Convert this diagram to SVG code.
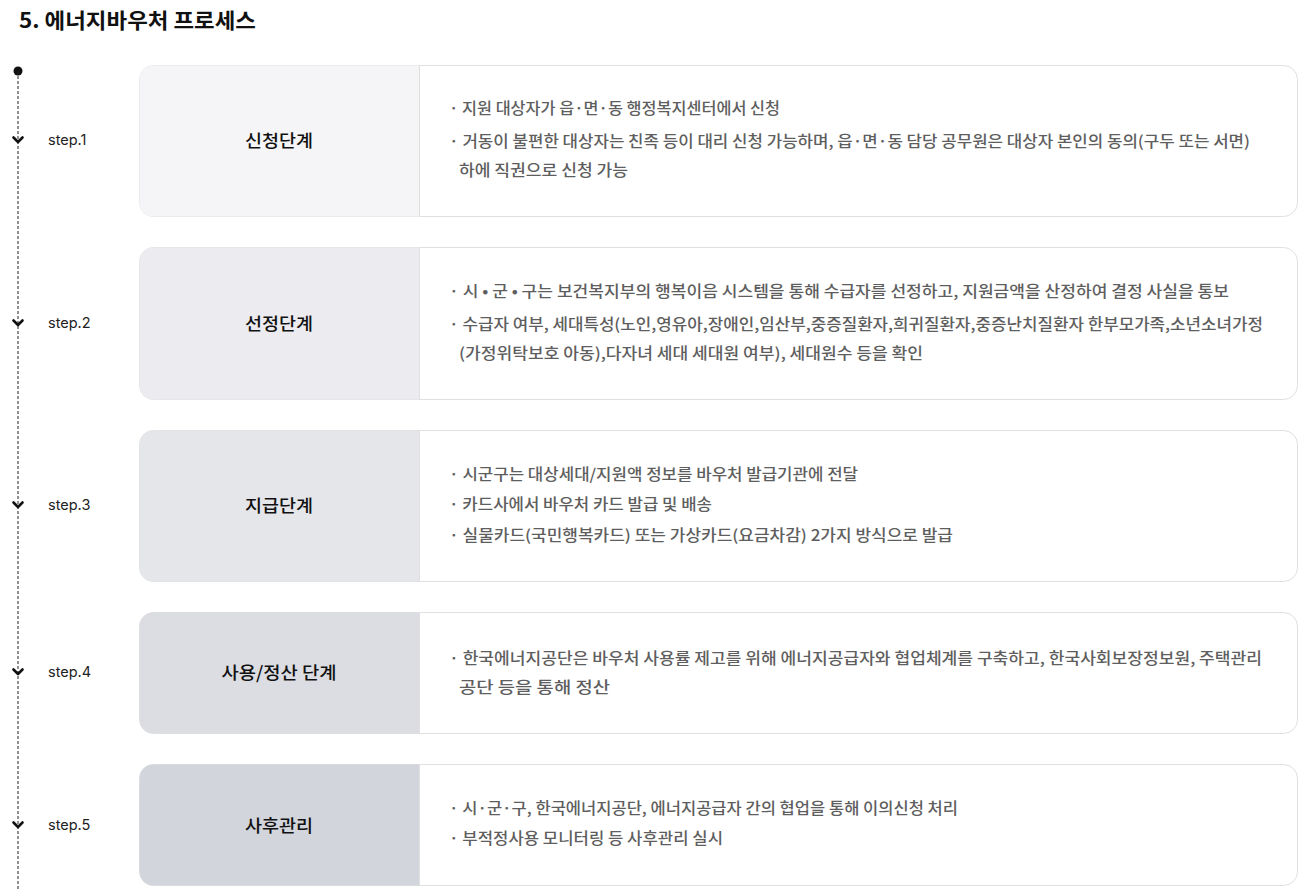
<svg xmlns="http://www.w3.org/2000/svg" width="1313" height="890" viewBox="0 0 1313 890">
<style>
.title{font-family:"Noto Sans CJK KR","Noto Sans",sans-serif;font-size:21px;font-weight:700;fill:#111}
.step{font-family:Inter,"Noto Sans",sans-serif;font-size:14.5px;fill:#222}
.head{font-family:"Noto Sans CJK KR",sans-serif;font-size:17.5px;font-weight:500;fill:#111;text-anchor:middle}
.body{font-family:"Noto Sans CJK KR",sans-serif;font-size:15.5px;font-weight:500;fill:#5e5e5e}
.frame{fill:#fff;stroke:#e0e0e0;stroke-width:1}
.chev{fill:none;stroke:#111;stroke-width:2.6;stroke-linecap:round;stroke-linejoin:round}
</style>
<rect width="1313" height="890" fill="#fff"/>
<text class="title" x="19" y="28" textLength="237" lengthAdjust="spacingAndGlyphs">5. 에너지바우처 프로세스</text>

<g id="connectors">
<circle cx="18" cy="71" r="4.5" fill="#111"/>
<line x1="18" y1="71" x2="18" y2="890" stroke="#222" stroke-width="1" stroke-dasharray="3,2"/>
<path class="chev" d="M13.5 137.5 L18 142 L22.5 137.5"/>
<path class="chev" d="M13.5 320.5 L18 325 L22.5 320.5"/>
<path class="chev" d="M13.5 502.5 L18 507 L22.5 502.5"/>
<path class="chev" d="M13.5 669.5 L18 674 L22.5 669.5"/>
<path class="chev" d="M13.5 822.5 L18 827 L22.5 822.5"/>
</g>

<g id="step1">
<text class="step" x="48" y="145">step.1</text>
<rect class="frame" x="139.5" y="65.5" width="1158" height="151" rx="14"/>
<path d="M153.5 65.5 H419.5 V216.5 H153.5 A14 14 0 0 1 139.5 202.5 V79.5 A14 14 0 0 1 153.5 65.5 Z" fill="#f5f5f7"/>
<line x1="419.5" y1="65.5" x2="419.5" y2="216.5" stroke="#e0e0e0"/>
<text class="head" x="279" y="147" textLength="68" lengthAdjust="spacingAndGlyphs">신청단계</text>
<text class="body" x="449" y="114" textLength="331" lengthAdjust="spacingAndGlyphs">· 지원 대상자가 읍·면·동 행정복지센터에서 신청</text>
<text class="body" x="449" y="147" textLength="801" lengthAdjust="spacingAndGlyphs">· 거동이 불편한 대상자는 친족 등이 대리 신청 가능하며, 읍·면·동 담당 공무원은 대상자 본인의 동의(구두 또는 서면)</text>
<text class="body" x="459" y="176" textLength="169" lengthAdjust="spacingAndGlyphs">하에 직권으로 신청 가능</text>
</g>

<g id="step2">
<text class="step" x="48" y="328">step.2</text>
<rect class="frame" x="139.5" y="247.5" width="1158" height="152" rx="14"/>
<path d="M153.5 247.5 H419.5 V399.5 H153.5 A14 14 0 0 1 139.5 385.5 V261.5 A14 14 0 0 1 153.5 247.5 Z" fill="#ececf0"/>
<line x1="419.5" y1="247.5" x2="419.5" y2="399.5" stroke="#e0e0e0"/>
<text class="head" x="279" y="330" textLength="68" lengthAdjust="spacingAndGlyphs">선정단계</text>
<text class="body" x="449" y="297" textLength="780" lengthAdjust="spacingAndGlyphs">· 시 • 군 • 구는 보건복지부의 행복이음 시스템을 통해 수급자를 선정하고, 지원금액을 산정하여 결정 사실을 통보</text>
<text class="body" x="449" y="330" textLength="814" lengthAdjust="spacingAndGlyphs">· 수급자 여부, 세대특성(노인,영유아,장애인,임산부,중증질환자,희귀질환자,중증난치질환자 한부모가족,소년소녀가정</text>
<text class="body" x="459" y="359" textLength="464" lengthAdjust="spacingAndGlyphs">(가정위탁보호 아동),다자녀 세대 세대원 여부), 세대원수 등을 확인</text>
</g>

<g id="step3">
<text class="step" x="48" y="510">step.3</text>
<rect class="frame" x="139.5" y="430.5" width="1158" height="151" rx="14"/>
<path d="M153.5 430.5 H419.5 V581.5 H153.5 A14 14 0 0 1 139.5 567.5 V444.5 A14 14 0 0 1 153.5 430.5 Z" fill="#e5e6ea"/>
<line x1="419.5" y1="430.5" x2="419.5" y2="581.5" stroke="#e0e0e0"/>
<text class="head" x="279" y="512" textLength="68" lengthAdjust="spacingAndGlyphs">지급단계</text>
<text class="body" x="449" y="480" textLength="409" lengthAdjust="spacingAndGlyphs">· 시군구는 대상세대/지원액 정보를 바우처 발급기관에 전달</text>
<text class="body" x="449" y="510" textLength="263" lengthAdjust="spacingAndGlyphs">· 카드사에서 바우처 카드 발급 및 배송</text>
<text class="body" x="449" y="541" textLength="504" lengthAdjust="spacingAndGlyphs">· 실물카드(국민행복카드) 또는 가상카드(요금차감) 2가지 방식으로 발급</text>
</g>

<g id="step4">
<text class="step" x="48" y="677">step.4</text>
<rect class="frame" x="139.5" y="612.5" width="1158" height="121" rx="14"/>
<path d="M153.5 612.5 H419.5 V733.5 H153.5 A14 14 0 0 1 139.5 719.5 V626.5 A14 14 0 0 1 153.5 612.5 Z" fill="#dcdde2"/>
<line x1="419.5" y1="612.5" x2="419.5" y2="733.5" stroke="#e0e0e0"/>
<text class="head" x="279" y="679" textLength="115" lengthAdjust="spacingAndGlyphs">사용/정산 단계</text>
<text class="body" x="449" y="664" textLength="813" lengthAdjust="spacingAndGlyphs">· 한국에너지공단은 바우처 사용률 제고를 위해 에너지공급자와 협업체계를 구축하고, 한국사회보장정보원, 주택관리</text>
<text class="body" x="459" y="693" textLength="151" lengthAdjust="spacingAndGlyphs">공단 등을 통해 정산</text>
</g>

<g id="step5">
<text class="step" x="48" y="830">step.5</text>
<rect class="frame" x="139.5" y="764.5" width="1158" height="121" rx="14"/>
<path d="M153.5 764.5 H419.5 V885.5 H153.5 A14 14 0 0 1 139.5 871.5 V778.5 A14 14 0 0 1 153.5 764.5 Z" fill="#d2d5dc"/>
<line x1="419.5" y1="764.5" x2="419.5" y2="885.5" stroke="#e0e0e0"/>
<text class="head" x="279" y="832" textLength="68" lengthAdjust="spacingAndGlyphs">사후관리</text>
<text class="body" x="449" y="814" textLength="509" lengthAdjust="spacingAndGlyphs">· 시·군·구, 한국에너지공단, 에너지공급자 간의 협업을 통해 이의신청 처리</text>
<text class="body" x="449" y="844" textLength="274" lengthAdjust="spacingAndGlyphs">· 부적정사용 모니터링 등 사후관리 실시</text>
</g>
</svg>
